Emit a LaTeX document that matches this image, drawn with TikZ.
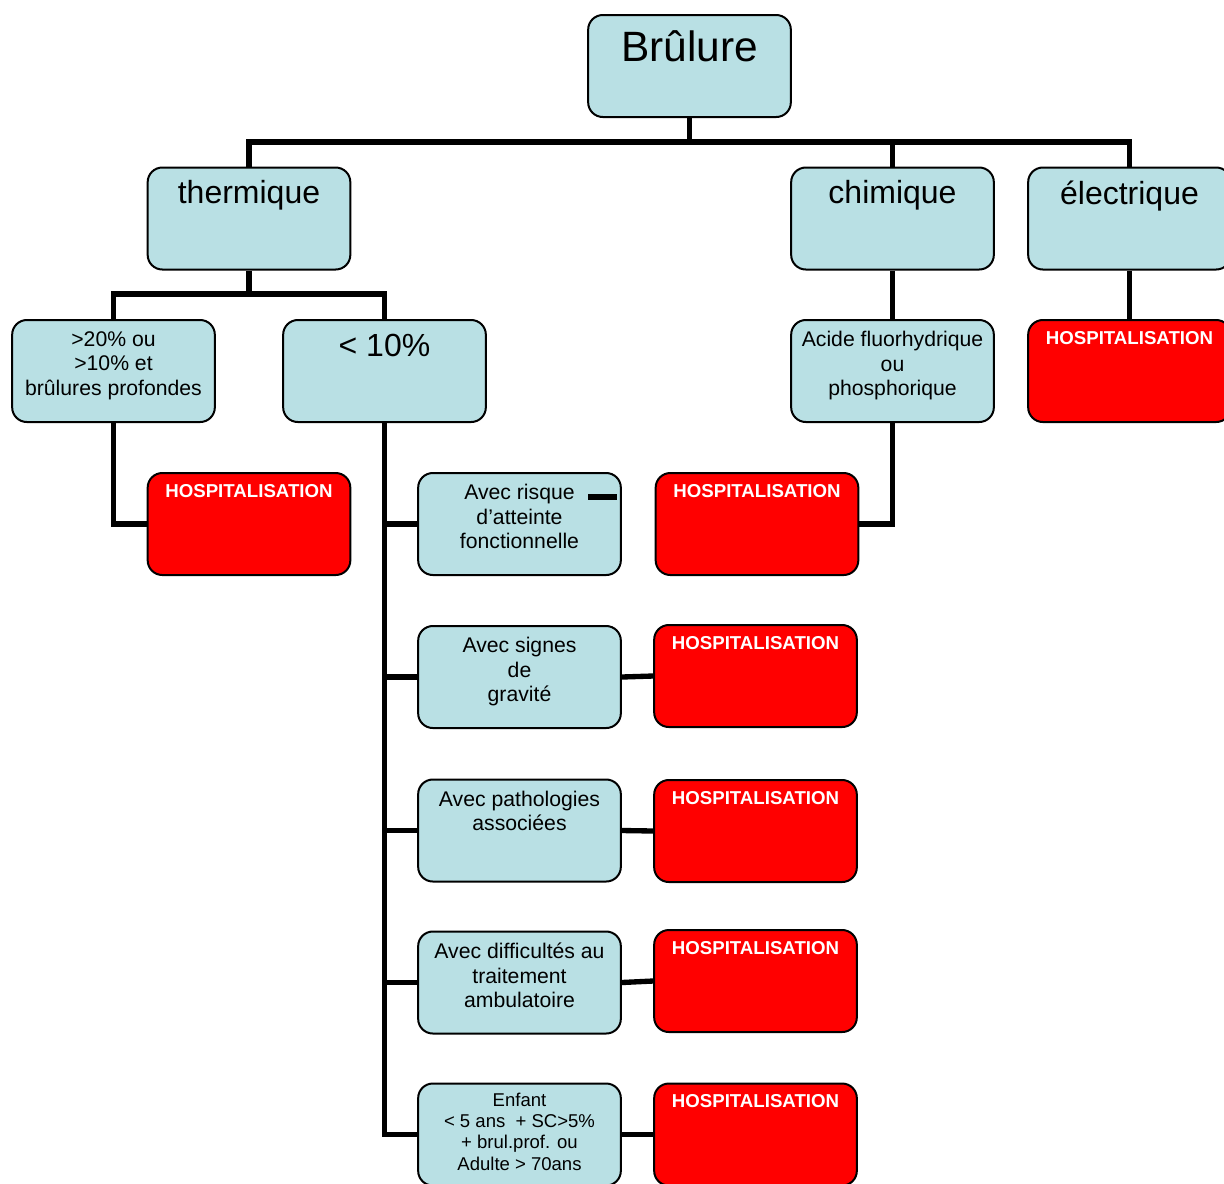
\documentclass[tikz,border=0pt]{standalone}
\usepackage{fontspec}
\setmainfont{Liberation Sans}
\definecolor{boxblue}{RGB}{185,224,228}
\definecolor{hosred}{RGB}{255,0,0}
\begin{document}
\begin{tikzpicture}[x=0.75pt,y=-0.75pt,
  box/.style={draw=black,line width=1.5pt,rounded corners=11pt,minimum width=152pt,minimum height=76.5pt,inner sep=0pt},
  bluebox/.style={box,fill=boxblue},
  redbox/.style={box,fill=hosred},
  conn/.style={line width=4pt,draw=black},
  big/.style={anchor=north,inner sep=0pt,font=\fontsize{31.8}{36}\selectfont},
  mid/.style={anchor=north,inner sep=0pt,font=\fontsize{24}{28}\selectfont},
  small/.style={anchor=north,inner sep=0pt,align=center,font=\fontsize{15.9}{18.5}\selectfont},
  tiny/.style={anchor=north,inner sep=0pt,align=center,font=\fontsize{13.9}{16}\selectfont},
  hos/.style={anchor=north,inner sep=0pt,text=white,font=\fontsize{14}{16}\selectfont\bfseries}
]
\clip (0,0) rectangle (1224,1183);
\fill[white] (0,0) rectangle (1224,1183);

% boxes
\node[bluebox] (root) at (689.5,66) {};
\node[bluebox] (therm) at (249,218.5) {};
\node[bluebox] (chim) at (892.5,218.5) {};
\node[bluebox] (elec) at (1129.5,218.5) {};
\node[bluebox] (gt20) at (113.5,371) {};
\node[bluebox] (lt10) at (384.5,371) {};
\node[bluebox] (acide) at (892.5,371) {};
\node[redbox] (hElec) at (1129.5,371) {};
\node[redbox] (hTherm) at (249,524) {};
\node[bluebox] (risque) at (519.5,524) {};
\node[redbox] (hChim) at (757,524) {};
\node[bluebox] (signes) at (519.5,677) {};
\node[redbox] (hSignes) at (755.5,676) {};
\node[bluebox] (patho) at (519.5,830.5) {};
\node[redbox] (hPatho) at (755.5,831) {};
\node[bluebox] (diff) at (519.5,982.5) {};
\node[redbox] (hDiff) at (755.5,981) {};
\node[bluebox] (enfant) at (519.5,1134.5) {};
\node[redbox] (hEnfant) at (755.5,1134.5) {};

% connectors
\coordinate (busTop) at (689.5,142);
\coordinate (busTh) at (249,294);
\draw[conn] (root.south) -- (busTop);
\draw[conn] (therm.north) |- (busTop) -| (elec.north);
\draw[conn] (busTop) -| (chim.north);
\draw[conn] (therm.south) -- (busTh);
\draw[conn] (gt20.north) |- (busTh) -| (lt10.north);
\draw[conn] (chim.south) -- (acide.north);
\draw[conn] (elec.south) -- (hElec.north);
\draw[conn] (gt20.south) |- (hTherm.west);
\draw[conn] (acide.south) |- (hChim.east);
\draw[conn] (lt10.south) -- (lt10.south |- enfant.west) -- (enfant.west);
\draw[conn] (lt10.south |- risque.west) -- (risque.west);
\draw[conn] (lt10.south |- signes.west) -- (signes.west);
\draw[conn] (lt10.south |- patho.west) -- (patho.west);
\draw[conn] (lt10.south |- diff.west) -- (diff.west);
\draw[conn] (signes.east) -- (hSignes.west);
\draw[conn] (patho.east) -- (hPatho.west);
\draw[conn] (diff.east) -- (hDiff.west);
\draw[conn] (enfant.east) -- (hEnfant.west);
\coordinate (dashA) at (588,497);
\coordinate (dashB) at (617,497);
\draw[conn] (dashA) -- (dashB);

% texts
\node[big] (tRoot) at ([yshift=-12.5pt]root.north) {Brûlure};
\node[mid] (tTherm) at ([yshift=-10.5pt]therm.north) {thermique};
\node[mid] (tChim) at ([yshift=-10.5pt]chim.north) {chimique};
\node[mid] (tElec) at ([yshift=-10.5pt]elec.north) {électrique};
\node[small] (tGt20) at ([yshift=-9pt]gt20.north) {>20\% ou\\>10\% et\\brûlures profondes};
\node[mid] (tLt10) at ([yshift=-11pt]lt10.north) {< 10\%};
\node[small] (tAcide) at ([yshift=-9pt]acide.north) {Acide fluorhydrique\\ou\\phosphorique};
\node[small] (tRisque) at ([yshift=-9pt]risque.north) {Avec risque\\d’atteinte\\fonctionnelle};
\node[small] (tSignes) at ([yshift=-9pt]signes.north) {Avec signes\\de\\gravité};
\node[small] (tPatho) at ([yshift=-9pt]patho.north) {Avec pathologies\\associées};
\node[small] (tDiff) at ([yshift=-9pt]diff.north) {Avec difficultés au\\traitement\\ambulatoire};
\node[tiny] (tEnfant) at ([yshift=-7.5pt]enfant.north) {Enfant\\< 5 ans~~+ SC>5\%\\+ brul.prof. ou\\Adulte > 70ans};
\node[hos] (tHElec) at ([yshift=-9pt]hElec.north) {HOSPITALISATION};
\node[hos] (tHTherm) at ([yshift=-9pt]hTherm.north) {HOSPITALISATION};
\node[hos] (tHChim) at ([yshift=-9pt]hChim.north) {HOSPITALISATION};
\node[hos] (tHSignes) at ([yshift=-9pt]hSignes.north) {HOSPITALISATION};
\node[hos] (tHPatho) at ([yshift=-9pt]hPatho.north) {HOSPITALISATION};
\node[hos] (tHDiff) at ([yshift=-9pt]hDiff.north) {HOSPITALISATION};
\node[hos] (tHEnfant) at ([yshift=-9pt]hEnfant.north) {HOSPITALISATION};
\end{tikzpicture}
\end{document}
